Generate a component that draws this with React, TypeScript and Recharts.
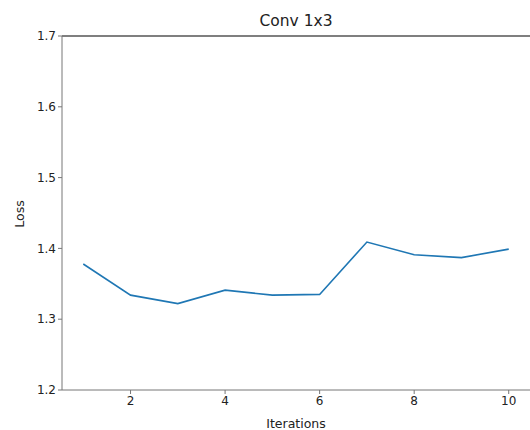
import React from "react";
import { LineChart, Line, XAxis, YAxis, ReferenceLine } from "recharts";

const iterations = [1, 2, 3, 4, 5, 6, 7, 8, 9, 10];
const lossValues = [1.378, 1.334, 1.322, 1.341, 1.334, 1.335, 1.409, 1.391, 1.387, 1.399];
const xTicks = [2, 4, 6, 8, 10];
const yTicks = [1.2, 1.3, 1.4, 1.5, 1.6, 1.7];

const data = iterations.map((it, i) => ({ it, loss: lossValues[i] }));

const FONT = "DejaVu Sans, sans-serif";

export default function App() {
  return (
    <div style={{ position: "absolute", left: 0, top: 0, width: 530, height: 430, background: "#fff" }}>
      <LineChart width={530} height={430} data={data} margin={{ top: 36, right: 0, bottom: 0, left: 0 }}>
        <XAxis
          dataKey="it"
          type="number"
          domain={[0.55, 10.45]}
          ticks={xTicks}
          allowDataOverflow
          height={40}
          stroke="#777"
          tickSize={4}
          tick={{ fill: "#222", fontSize: 12, fontFamily: FONT }}
          tickFormatter={(v: number) => String(v)}
        />
        <YAxis
          type="number"
          domain={[1.2, 1.7]}
          ticks={yTicks}
          allowDataOverflow
          width={62}
          stroke="#777"
          tickSize={4}
          tick={{ fill: "#222", fontSize: 12, fontFamily: FONT }}
          tickFormatter={(v: number) => v.toFixed(1)}
        />
        <ReferenceLine y={1.7} stroke="#000" strokeWidth={1.2} />
        <Line
          type="linear"
          dataKey="loss"
          stroke="#1f77b4"
          strokeWidth={1.6}
          dot={false}
          isAnimationActive={false}
        />
        <text x={296} y={21} textAnchor="middle" dominantBaseline="middle" fontSize={15.5} fontFamily={FONT} fill="#222">
          Conv 1x3
        </text>
        <text x={296} y={424} textAnchor="middle" dominantBaseline="middle" fontSize={12.5} fontFamily={FONT} fill="#222">
          Iterations
        </text>
        <text
          x={20}
          y={214}
          textAnchor="middle"
          dominantBaseline="middle"
          fontSize={12.5}
          fontFamily={FONT}
          fill="#222"
          transform="rotate(-90 20 214)"
        >
          Loss
        </text>
      </LineChart>
    </div>
  );
}
